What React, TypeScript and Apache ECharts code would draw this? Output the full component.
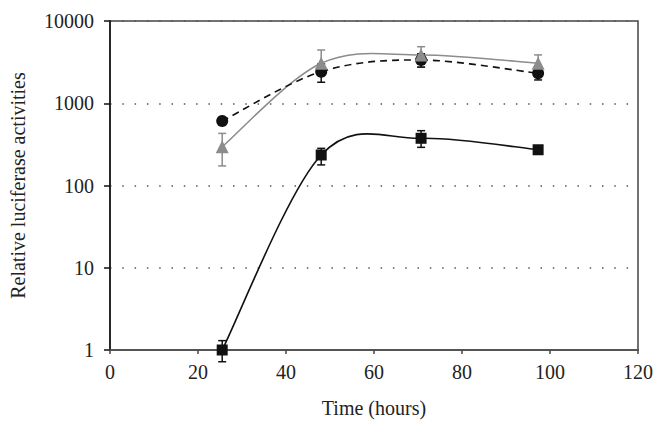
import React, { useEffect, useRef } from "react";
import * as echarts from "echarts";

const hours = [25.5, 48, 70.7, 97.3];

const squareVals = [1, 235, 375, 272];
const squareLow = [0.72, 178, 291, 255];
const squareHigh = [1.3, 283, 464, 290];

const circleVals = [608, 2420, 3360, 2310];
const circleLow = [565, 1800, 2750, 1920];
const circleHigh = [655, 3000, 4000, 2750];

const triVals = [296, 3060, 3860, 3060];
const triLow = [173, 2300, 2740, 2400];
const triHigh = [430, 4440, 4870, 3870];

const xTitle = "Time (hours)";
const yTitle = "Relative luciferase activities";

const FONT = "Liberation Serif";
const BLACK = "#111";
const GRAY = "#8c8c8c";

function curveSeries(vals: number[], color: string, dash: number[] | null, z: number) {
  return {
    type: "custom",
    data: [[0]],
    silent: true,
    z,
    renderItem: (_params: any, api: any) => {
      const pts = hours.map((h, i) => api.coord([h, vals[i]]));
      const children: any[] = [];
      for (let i = 0; i < pts.length - 1; i++) {
        const p0 = pts[Math.max(i - 1, 0)];
        const p1 = pts[i];
        const p2 = pts[i + 1];
        const p3 = pts[Math.min(i + 2, pts.length - 1)];
        children.push({
          type: "bezierCurve",
          shape: {
            x1: p1[0],
            y1: p1[1],
            cpx1: p1[0] + (p2[0] - p0[0]) / 6,
            cpy1: p1[1] + (p2[1] - p0[1]) / 6,
            cpx2: p2[0] - (p3[0] - p1[0]) / 6,
            cpy2: p2[1] - (p3[1] - p1[1]) / 6,
            x2: p2[0],
            y2: p2[1],
          },
          style: {
            fill: null,
            stroke: color,
            lineWidth: 1.6,
            lineDash: dash || undefined,
          },
        });
      }
      return { type: "group", children };
    },
  };
}

function errorSeries(low: number[], high: number[], color: string, z: number) {
  return {
    type: "custom",
    data: hours.map((h, i) => [h, low[i], high[i]]),
    silent: true,
    clip: false,
    z,
    renderItem: (_params: any, api: any) => {
      const x = api.value(0);
      const lo = api.coord([x, api.value(1)]);
      const hi = api.coord([x, api.value(2)]);
      const w = 4;
      const style = { stroke: color, lineWidth: 1.5 };
      return {
        type: "group",
        children: [
          { type: "line", shape: { x1: lo[0], y1: lo[1], x2: hi[0], y2: hi[1] }, style },
          { type: "line", shape: { x1: lo[0] - w, y1: lo[1], x2: lo[0] + w, y2: lo[1] }, style },
          { type: "line", shape: { x1: hi[0] - w, y1: hi[1], x2: hi[0] + w, y2: hi[1] }, style },
        ],
      };
    },
  };
}

function pointSeries(vals: number[], symbol: string, size: number, color: string, z: number) {
  return {
    type: "scatter",
    data: hours.map((h, i) => [h, vals[i]]),
    symbol,
    symbolSize: size,
    itemStyle: { color, opacity: 1 },
    silent: true,
    z,
  };
}

export default function App() {
  const ref = useRef<HTMLDivElement>(null);
  useEffect(() => {
    if (!ref.current) return;
    const chart = echarts.init(ref.current, null, { renderer: "svg" });
    chart.setOption({
      animation: false,
      backgroundColor: "#fff",
      grid: {
        left: 109,
        right: 28,
        top: 21,
        bottom: 82,
        show: true,
        borderColor: "#444",
        borderWidth: 1.5,
        backgroundColor: "transparent",
      },
      xAxis: {
        type: "value",
        min: 0,
        max: 120,
        interval: 20,
        name: xTitle,
        nameLocation: "middle",
        nameGap: 48,
        nameTextStyle: { fontFamily: FONT, fontSize: 20, color: "#222" },
        axisLine: { show: true, lineStyle: { color: "#555", width: 2 } },
        axisTick: { show: true, length: 4, lineStyle: { color: "#444", width: 1.5 } },
        axisLabel: { fontFamily: FONT, fontSize: 20, color: "#222", margin: 12 },
        splitLine: { show: false },
      },
      yAxis: {
        type: "log",
        logBase: 10,
        min: 1,
        max: 10000,
        name: yTitle,
        nameLocation: "middle",
        nameGap: 82,
        nameTextStyle: { fontFamily: FONT, fontSize: 20, color: "#222" },
        axisLine: { show: true, lineStyle: { color: "#111", width: 1.5 } },
        axisTick: { show: true, length: 6, lineStyle: { color: "#111", width: 1.5 } },
        axisLabel: {
          fontFamily: FONT,
          fontSize: 20,
          color: "#222",
          margin: 16,
          formatter: (v: number) => String(Math.round(v)),
        },
        splitLine: { show: true, lineStyle: { color: "#555", width: 1.5, type: [1.5, 10.8] } },
        minorTick: { show: false },
      },
      series: [
        curveSeries(triVals, GRAY, null, 2),
        curveSeries(circleVals, BLACK, [7, 5], 3),
        curveSeries(squareVals, BLACK, null, 3),
        errorSeries(triLow, triHigh, GRAY, 4),
        errorSeries(circleLow, circleHigh, BLACK, 4),
        errorSeries(squareLow, squareHigh, BLACK, 4),
        pointSeries(circleVals, "circle", 12, BLACK, 5),
        pointSeries(squareVals, "rect", 11, BLACK, 5),
        pointSeries(triVals, "triangle", 13, GRAY, 6),
      ],
    });
    return () => chart.dispose();
  }, []);
  return (
    <div
      ref={ref}
      style={{ position: "fixed", left: 0, top: 0, width: 666, height: 432 }}
    />
  );
}
